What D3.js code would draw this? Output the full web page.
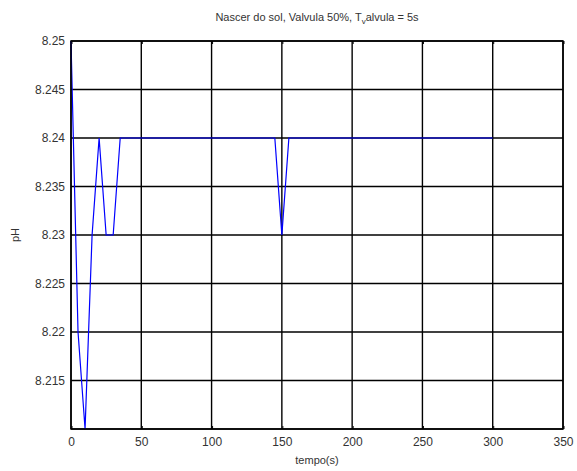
<!DOCTYPE html>
<html><head><meta charset="utf-8">
<script src="https://cdn.jsdelivr.net/npm/d3@7"></script>
<style>body{margin:0;background:#fff}svg{display:block}text{font-family:"Liberation Sans",Arial,sans-serif}</style>
</head><body><svg id="c" width="577" height="471"></svg>
<script>
const time = [0, 5, 10, 15, 20, 25, 30, 35, 145, 150, 155, 300];
const ph   = [8.25, 8.22, 8.21, 8.23, 8.24, 8.23, 8.23, 8.24, 8.24, 8.23, 8.24, 8.24];
const xTicks = [0, 50, 100, 150, 200, 250, 300, 350];
const yTicks = [8.21, 8.215, 8.22, 8.225, 8.23, 8.235, 8.24, 8.245, 8.25];
const yLabels = ["", "8.215", "8.22", "8.225", "8.23", "8.235", "8.24", "8.245", "8.25"];

const svg = d3.select("#c");
const L = 71, R = 563, T = 41, B = 429;
const x = d3.scaleLinear().domain([0, 350]).range([L, R]);
const y = d3.scaleLinear().domain([8.21, 8.25]).range([B, T]);
const textCol = "#333";

// grid
const g = svg.append("g");
g.selectAll("line.v").data(xTicks).join("line")
  .attr("x1", d => x(d)).attr("x2", d => x(d)).attr("y1", T).attr("y2", B)
  .attr("stroke", "#000").attr("stroke-width", 1.4);
g.selectAll("line.h").data(yTicks).join("line")
  .attr("y1", d => y(d)).attr("y2", d => y(d)).attr("x1", L).attr("x2", R)
  .attr("stroke", "#000").attr("stroke-width", 1.4);

// small inner tick marks (MATLAB style)
const tk = 3;
svg.append("g").selectAll("line").data(xTicks).join("line")
  .attr("x1", d => x(d) + 1).attr("x2", d => x(d) + 1).attr("y1", B).attr("y2", B - tk)
  .attr("stroke", "#000").attr("stroke-width", 1);
svg.append("g").selectAll("line").data(xTicks).join("line")
  .attr("x1", d => x(d) + 1).attr("x2", d => x(d) + 1).attr("y1", T).attr("y2", T + tk)
  .attr("stroke", "#000").attr("stroke-width", 1);

// axes
const xAxis = d3.axisBottom(x).tickValues(xTicks).tickSize(0).tickPadding(8).tickFormat(d3.format("d"));
const yAxis = d3.axisLeft(y).tickValues(yTicks).tickSize(0).tickPadding(6).tickFormat((d, i) => yLabels[i]);
const gx = svg.append("g").attr("transform", `translate(0,${B})`).call(xAxis);
const gy = svg.append("g").attr("transform", `translate(${L},0)`).call(yAxis);
[gx, gy].forEach(a => {
  a.select(".domain").remove();
  a.selectAll("text").attr("font-size", 12).attr("fill", textCol).attr("font-family", '"Liberation Sans",Arial,sans-serif');
});

// line
const line = d3.line().x((d, i) => x(time[i])).y(d => y(d));
svg.append("path").datum(ph).attr("d", line)
  .attr("fill", "none").attr("stroke", "#0000ff").attr("stroke-width", 1.2);

// frame
svg.append("rect").attr("x", L).attr("y", T).attr("width", R - L).attr("height", B - T)
  .attr("fill", "none").attr("stroke", "#000").attr("stroke-width", 1.5);

// title
const title = svg.append("text").attr("x", (L + R) / 2).attr("y", 21)
  .attr("text-anchor", "middle").attr("font-size", 11).attr("fill", textCol);
title.append("tspan").text("Nascer do sol, Valvula 50%, T");
title.append("tspan").attr("dy", 3).attr("font-size", 8).text("v");
title.append("tspan").attr("dy", -3).text("alvula = 5s");

svg.append("text").attr("x", (L + R) / 2).attr("y", 464).attr("text-anchor", "middle")
  .attr("font-size", 11).attr("fill", textCol).text("tempo(s)");
svg.append("text").attr("transform", `translate(19,${(T + B) / 2}) rotate(-90)`)
  .attr("text-anchor", "middle").attr("font-size", 11).attr("fill", textCol).text("pH");
</script></body></html>
